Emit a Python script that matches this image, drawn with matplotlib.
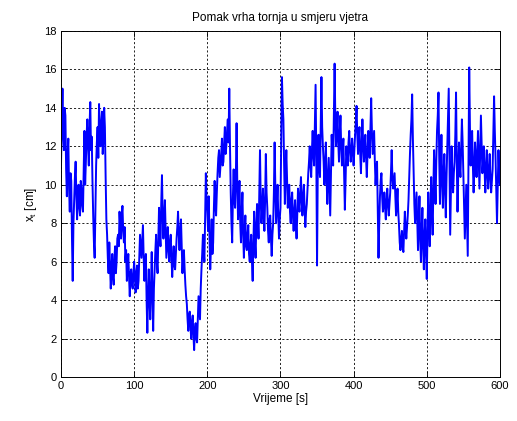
import matplotlib
matplotlib.use("Agg")
import matplotlib.pyplot as plt
import numpy as np

# tower tip displacement in the wind direction, one sample per second
TIME_STEP = 1.0
DISPLACEMENT = [
    11.0, 13.2, 15.0, 12.6, 11.8, 14.0, 13.6, 10.8, 9.4, 11.6, 12.4, 9.8, 8.6, 10.6, 10.2, 7.2, 5.0, 8.0, 9.2, 10.4,
    11.2, 9.4, 8.2, 9.6, 10.0, 8.8, 8.4, 10.2, 9.8, 8.9, 8.6, 10.6, 12.8, 10.0, 11.2, 12.6, 13.4, 12.0, 11.0, 13.0,
    14.3, 11.8, 12.5, 10.2, 8.4, 7.0, 6.2, 8.6, 11.0, 12.2, 13.0, 11.4, 14.2, 12.8, 12.0, 13.2, 13.8, 11.6, 12.4, 14.0,
    13.0, 10.4, 8.2, 7.4, 6.2, 5.4, 7.0, 5.8, 4.6, 5.6, 6.4, 5.2, 4.8, 6.2, 6.8, 5.4, 6.0, 7.2, 7.4, 6.8,
    8.6, 7.8, 7.2, 8.4, 8.9, 7.6, 7.0, 7.8, 6.0, 6.6, 5.0, 5.8, 6.4, 5.2, 4.2, 5.4, 5.6, 4.8, 4.6, 5.4,
    6.0, 5.2, 4.4, 5.4, 5.8, 4.6, 5.0, 6.2, 7.4, 6.8, 6.2, 7.0, 7.9, 6.2, 5.0, 6.0, 6.4, 4.0, 2.3, 4.2,
    5.6, 4.0, 3.0, 4.8, 6.5, 4.2, 2.4, 4.6, 5.6, 6.6, 7.4, 6.0, 5.4, 7.2, 8.8, 7.4, 6.8, 9.0, 10.5, 8.4,
    7.2, 8.4, 9.2, 7.6, 6.2, 7.0, 7.8, 6.6, 6.0, 7.0, 7.4, 6.2, 5.2, 6.0, 6.8, 5.8, 5.6, 6.4, 7.2, 7.8,
    8.6, 7.4, 6.6, 7.6, 8.2, 6.8, 5.4, 6.2, 6.6, 5.6, 4.8, 4.2, 3.8, 3.0, 2.4, 3.2, 3.4, 2.6, 2.0, 2.8,
    3.2, 2.2, 1.4, 2.4, 2.8, 2.0, 1.8, 3.0, 4.2, 3.6, 3.0, 4.6, 5.6, 6.4, 7.4, 6.6, 6.0, 8.4, 10.6, 9.2,
    8.6, 7.6, 9.4, 7.2, 5.6, 6.8, 8.2, 6.4, 7.0, 8.8, 10.2, 9.0, 8.4, 9.6, 10.6, 11.4, 11.8, 10.4, 11.0, 11.6,
    12.4, 11.0, 11.2, 12.2, 13.0, 11.6, 12.0, 12.8, 13.4, 12.2, 15.0, 12.0, 9.6, 8.0, 7.0, 9.4, 10.8, 9.2, 8.8, 10.4,
    13.2, 10.0, 8.2, 9.4, 10.2, 8.0, 7.0, 8.6, 9.6, 7.4, 6.2, 7.6, 8.4, 6.8, 6.6, 7.4, 7.9, 6.4, 6.0, 6.8,
    7.4, 6.0, 5.0, 7.0, 8.6, 7.0, 6.2, 8.0, 9.0, 8.2, 7.2, 9.4, 11.8, 9.2, 8.0, 8.8, 9.8, 8.6, 7.6, 9.2,
    11.6, 9.6, 8.8, 7.6, 7.0, 8.2, 8.4, 7.2, 6.3, 7.4, 8.0, 9.6, 12.2, 9.8, 8.0, 9.0, 10.0, 8.4, 7.2, 8.2,
    8.8, 12.0, 15.6, 14.2, 13.4, 11.0, 9.0, 10.6, 11.8, 10.2, 8.8, 9.6, 10.0, 8.6, 8.0, 9.2, 9.6, 8.4, 7.6, 8.6,
    9.2, 8.0, 7.2, 8.6, 9.8, 9.0, 8.6, 9.6, 10.4, 9.2, 8.4, 9.4, 10.0, 8.8, 7.8, 8.6, 9.0, 9.8, 10.6, 11.2,
    12.0, 11.0, 10.4, 11.8, 12.8, 11.6, 11.0, 13.0, 15.2, 11.4, 5.8, 10.8, 12.6, 11.0, 10.4, 13.2, 15.6, 13.0, 12.0, 11.2,
    10.0, 11.0, 12.2, 10.4, 9.0, 10.2, 11.4, 9.8, 8.4, 10.6, 12.6, 11.6, 11.0, 13.6, 16.3, 13.4, 12.0, 12.8, 13.8, 12.2,
    11.2, 12.6, 13.6, 12.0, 11.0, 11.8, 12.4, 10.6, 8.7, 10.2, 12.0, 11.4, 11.0, 12.2, 12.8, 11.8, 11.2, 11.8, 12.4, 11.6,
    11.0, 11.8, 12.6, 13.2, 14.1, 12.6, 11.6, 12.4, 13.0, 11.6, 10.6, 12.0, 13.4, 12.2, 11.2, 11.8, 12.6, 11.4, 10.4, 11.6,
    12.8, 12.0, 11.4, 13.0, 14.5, 12.8, 11.6, 12.2, 12.8, 11.2, 10.0, 10.8, 11.2, 8.8, 6.2, 8.0, 9.4, 10.2, 10.6, 9.4,
    8.6, 9.0, 9.6, 8.8, 8.2, 9.2, 9.8, 9.0, 8.4, 9.0, 9.6, 10.6, 11.8, 10.4, 9.8, 10.2, 10.6, 9.4, 8.4, 9.0,
    9.8, 8.6, 7.9, 7.0, 6.6, 7.2, 7.6, 6.8, 6.5, 7.6, 8.6, 7.8, 7.2, 7.8, 8.4, 9.2, 10.4, 11.6, 12.6, 13.4,
    14.7, 12.4, 10.6, 9.0, 8.0, 8.8, 9.6, 8.0, 6.6, 8.2, 9.4, 7.2, 6.0, 7.6, 8.8, 6.8, 5.6, 7.4, 8.2, 6.4,
    5.1, 7.6, 9.6, 8.0, 6.8, 8.8, 10.4, 8.6, 7.4, 9.8, 11.8, 10.4, 9.0, 11.2, 12.8, 13.6, 14.8, 11.4, 9.0, 10.8,
    12.6, 10.2, 8.8, 10.6, 11.6, 9.6, 8.3, 10.4, 12.0, 13.4, 15.0, 11.0, 7.4, 9.8, 12.0, 10.4, 9.6, 10.6, 11.2, 12.6,
    14.8, 11.2, 8.6, 10.6, 12.2, 11.0, 10.4, 12.0, 13.4, 12.2, 10.6, 9.0, 7.2, 8.6, 10.0, 8.0, 6.3, 11.0, 16.1, 13.0,
    11.0, 12.2, 12.8, 11.0, 9.6, 11.0, 12.2, 11.4, 10.4, 11.6, 12.8, 11.2, 9.8, 11.8, 13.6, 12.0, 10.6, 11.2, 12.0, 10.8,
    9.6, 10.8, 11.8, 10.6, 9.8, 10.8, 11.6, 10.4, 9.6, 10.2, 10.8, 12.6, 14.6, 12.8, 11.4, 9.6, 8.0, 10.0, 11.8, 10.6,
    10.0,
]
X_TICKS = [0, 100, 200, 300, 400, 500, 600]
Y_TICKS = [0, 2, 4, 6, 8, 10, 12, 14, 16, 18]

plt.rcParams["font.family"] = ["Liberation Sans", "DejaVu Sans"]
plt.rcParams["font.size"] = 8

time = np.arange(len(DISPLACEMENT)) * TIME_STEP

fig = plt.figure(figsize=(5.17, 4.21), dpi=100)
ax = fig.add_axes([0.118, 0.1045, 0.849, 0.822])
ax.plot(time, DISPLACEMENT, color="#0000ff", linewidth=1.4)

ax.set_xlim(0, 600)
ax.set_ylim(0, 18)
ax.set_xticks(X_TICKS)
ax.set_yticks(Y_TICKS)
ax.tick_params(direction="in", top=True, right=True, length=4, width=0.6, pad=3)
ax.grid(True, color="black", linestyle=(0, (2.5, 2.5)), linewidth=0.6)
for spine in ax.spines.values():
    spine.set_linewidth(0.7)

ax.set_title("Pomak vrha tornja u smjeru vjetra", fontsize=8.5, pad=7)
ax.set_xlabel("Vrijeme [s]", fontsize=8.5, labelpad=1)
ax.set_ylabel(r"x$_\mathregular{t}$ [cm]", fontsize=8.5, labelpad=4)

fig.savefig("out.png", dpi=100)
plt.close(fig)
